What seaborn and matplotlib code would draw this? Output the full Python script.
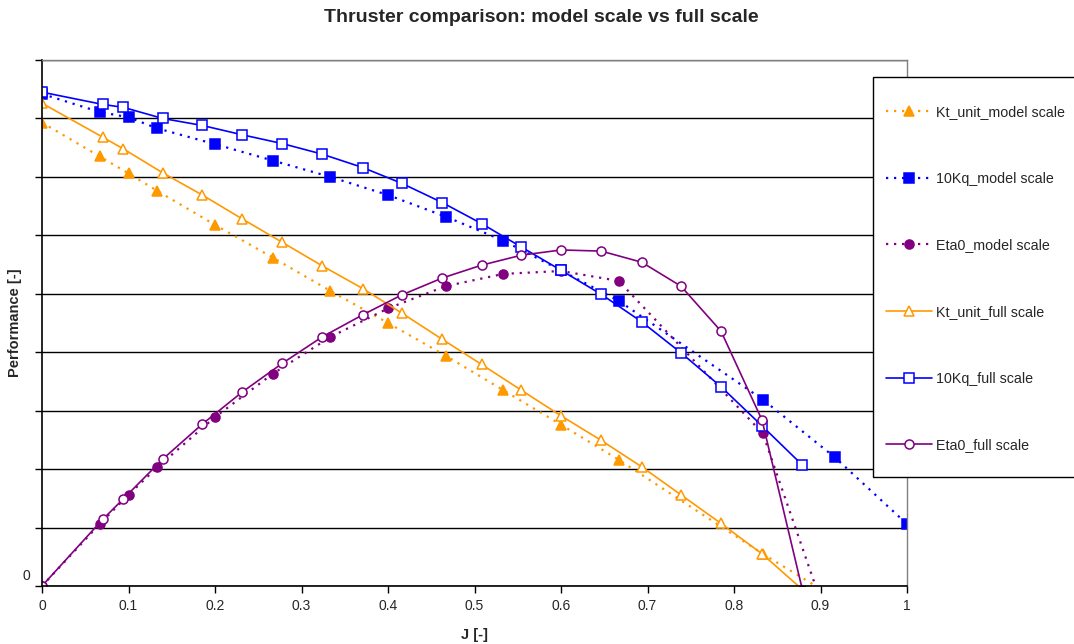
import matplotlib
matplotlib.use("Agg")
import matplotlib.pyplot as plt
import matplotlib.transforms as mtransforms
from matplotlib.patches import Rectangle
import seaborn as sns

# ---------------- data ----------------
j_kt_model = [0, 0.0667, 0.1, 0.1333, 0.2, 0.2667, 0.3333, 0.4, 0.4667, 0.5333, 0.6, 0.6667, 0.8333, 0.9167]
kt_model = [0.793, 0.735, 0.706, 0.676, 0.618, 0.562, 0.505, 0.450, 0.394, 0.335, 0.276, 0.216, 0.055, -0.020]

j_kq_model = [0, 0.0667, 0.1, 0.1333, 0.2, 0.2667, 0.3333, 0.4, 0.4667, 0.5333, 0.6, 0.6667, 0.8333, 0.9167, 1.0]
kq_model = [0.842, 0.811, 0.802, 0.783, 0.756, 0.728, 0.700, 0.669, 0.632, 0.591, 0.540, 0.488, 0.319, 0.220, 0.106]

j_eta_model = [0, 0.0667, 0.1, 0.1333, 0.2, 0.2667, 0.3333, 0.4, 0.4667, 0.5333, 0.6, 0.6667, 0.8333, 0.9167]
eta_model = [0, 0.106, 0.156, 0.203, 0.289, 0.363, 0.426, 0.475, 0.513, 0.534, 0.539, 0.522, 0.261, -0.096]

j_full = [0, 0.0702, 0.094, 0.1395, 0.1853, 0.2316, 0.2778, 0.3237, 0.3708, 0.4159,
          0.4628, 0.5083, 0.5541, 0.6003, 0.6466, 0.6933, 0.7387, 0.785, 0.8324, 0.879]
kt_full = [0.826, 0.768, 0.748, 0.707, 0.669, 0.628, 0.588, 0.548, 0.509, 0.467,
           0.422, 0.379, 0.335, 0.291, 0.249, 0.204, 0.156, 0.107, 0.055, -0.006]
kq_full = [0.845, 0.824, 0.819, 0.800, 0.788, 0.772, 0.757, 0.739, 0.716, 0.689,
           0.656, 0.620, 0.580, 0.540, 0.499, 0.452, 0.399, 0.341, 0.274, 0.207]
eta_full = [0, 0.114, 0.149, 0.217, 0.277, 0.332, 0.381, 0.426, 0.464, 0.498,
            0.527, 0.549, 0.566, 0.575, 0.573, 0.554, 0.513, 0.436, 0.284, -0.006]

x_ticks = [0, 0.1, 0.2, 0.3, 0.4, 0.5, 0.6, 0.7, 0.8, 0.9, 1.0]
x_tick_labels = ["0", "0.1", "0.2", "0.3", "0.4", "0.5", "0.6", "0.7", "0.8", "0.9", "1"]
y_ticks = [0, 0.1, 0.2, 0.3, 0.4, 0.5, 0.6, 0.7, 0.8, 0.9]
y_tick_labels = ["0", "", "", "", "", "", "", "", "", ""]

labels = ["Kt_unit_model scale", "10Kq_model scale", "Eta0_model scale",
          "Kt_unit_full scale", "10Kq_full scale", "Eta0_full scale"]

ORANGE = "#FF9900"
BLUE = "#0000FF"
PURPLE = "#800080"

# ---------------- style ----------------
sns.set_style("white")
plt.rcParams["font.family"] = ["Liberation Sans", "DejaVu Sans"]

W, H = 1074, 644
fig = plt.figure(figsize=(W / 100, H / 100), dpi=100)
ax = fig.add_axes([42 / W, 1 - 586 / H, (907 - 42) / W, (586 - 60) / H])

dot = (0, (1.0, 2.6))

series = [
    (j_kt_model, kt_model, ORANGE, "^", ORANGE, dot, labels[0]),
    (j_kq_model, kq_model, BLUE, "s", BLUE, dot, labels[1]),
    (j_eta_model, eta_model, PURPLE, "o", PURPLE, dot, labels[2]),
    (j_full, kt_full, ORANGE, "^", "white", "-", labels[3]),
    (j_full, kq_full, BLUE, "s", "white", "-", labels[4]),
    (j_full, eta_full, PURPLE, "o", "white", "-", labels[5]),
]

for xs, ys, col, mk, mfc, ls, lab in series:
    lw = 1.6 if ls is dot else 1.2
    sns.lineplot(x=xs, y=ys, ax=ax, sort=False, estimator=None,
                 color=col, linestyle=ls, linewidth=lw,
                 marker=mk, markersize=6.5, markerfacecolor=mfc,
                 markeredgecolor=col, markeredgewidth=1.1, label=lab)

ax.set_xlim(0, 1)
ax.set_ylim(0, 0.9)
ax.set_xticks(x_ticks)
ax.set_xticklabels(x_tick_labels, fontsize=10)
ax.set_yticks(y_ticks)
ax.set_yticklabels(y_tick_labels, fontsize=10)
ax.tick_params(axis="both", direction="out", length=5, width=1, color="black",
               bottom=True, left=True, pad=4)
# lift the "0" label slightly as in the reference
offset = mtransforms.ScaledTranslation(0.01, 0.11, fig.dpi_scale_trans)
for lbl in ax.get_yticklabels():
    lbl.set_transform(lbl.get_transform() + offset)

ax.grid(axis="y", color="black", linewidth=1.0)
ax.grid(axis="x", visible=False)
ax.set_axisbelow(True)
for side in ["left", "bottom"]:
    ax.spines[side].set_color("black")
    ax.spines[side].set_linewidth(1.2)
for side in ["top", "right"]:
    ax.spines[side].set_color("#808080")
    ax.spines[side].set_linewidth(1.0)

ax.set_xlabel("J [-]", fontsize=10.5, fontweight="bold", labelpad=11)
ax.set_ylabel("Performance [-]", fontsize=10.5, fontweight="bold")
ax.yaxis.set_label_coords((22 - 42) / 865, 0.5)
fig.suptitle("Thruster comparison: model scale vs full scale", fontsize=14,
             fontweight="bold", x=541 / W, y=1 - 9 / H, va="top")

if ax.get_legend() is not None:
    ax.get_legend().remove()

# legend frame (extends past the right edge as in the reference)
fig.patches.append(Rectangle((873 / W, 1 - 477 / H), (1090 - 873) / W, (477 - 77) / H,
                             transform=fig.transFigure, facecolor="white",
                             edgecolor="black", linewidth=1.0, zorder=1))
handles = ax.get_lines()
leg = fig.legend(handles=handles[:6], labels=labels, loc="upper left",
                 bbox_to_anchor=(886 / W, 1 - 105 / H), borderaxespad=0,
                 frameon=False, fontsize=10.3, numpoints=1, borderpad=0,
                 handlelength=3.2, handletextpad=0.3, labelspacing=3.68)
leg.set_zorder(3)

fig.savefig("out.png", dpi=100)
